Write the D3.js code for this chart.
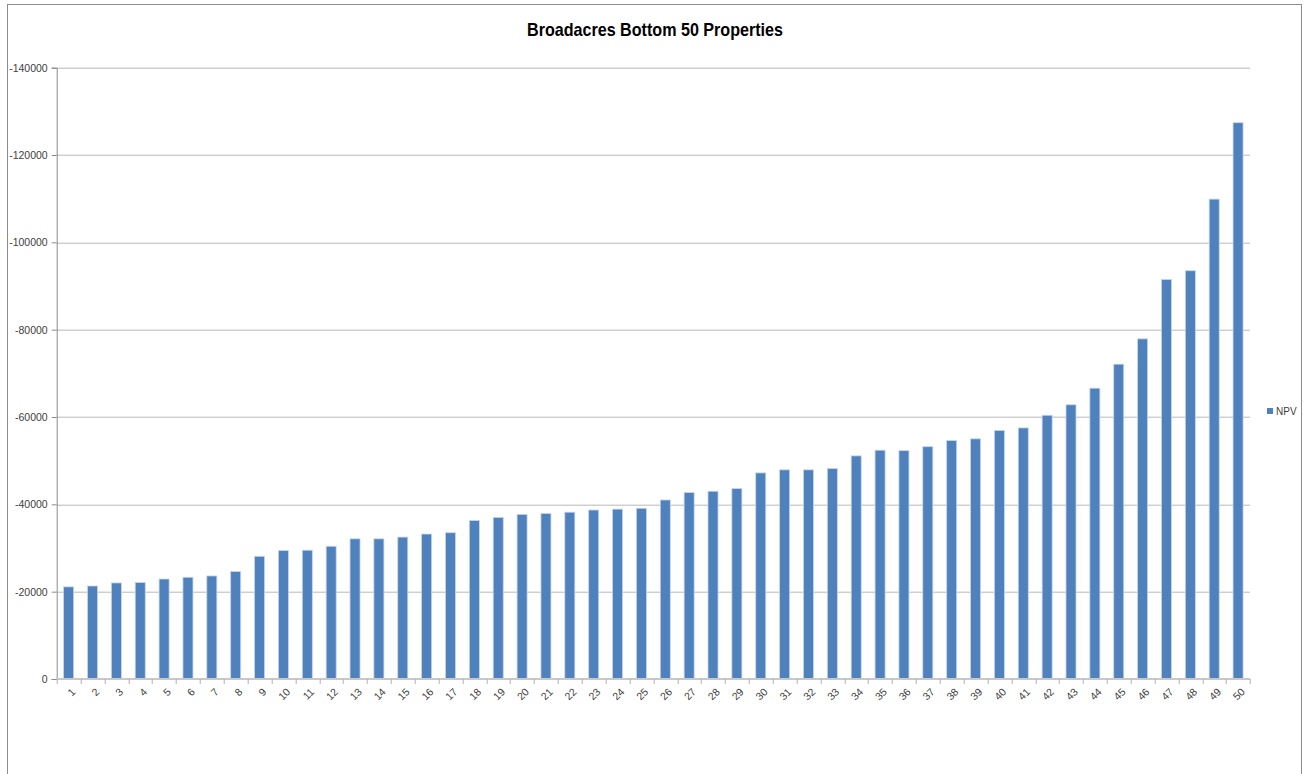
<!DOCTYPE html>
<html>
<head>
<meta charset="utf-8">
<script src="https://cdn.jsdelivr.net/npm/d3@7"></script>
<style>
  body { margin: 0; background: #fff; }
  svg { display: block; }
</style>
</head>
<body>
<svg id="chart" width="1305" height="774"></svg>
<script>
// property rank along the x axis
const properties = d3.range(1, 51).map(String)

// NPV of each property (negative)
const npv = [
  -21100, -21300, -22000, -22100, -22900, -23300, -23600, -24600, -28100, -29400,
  -29500, -30400, -32100, -32100, -32500, -33200, -33500, -36300, -37000, -37700,
  -37900, -38200, -38700, -38900, -39100, -41000, -42700, -43000, -43600, -47200,
  -47900, -47900, -48200, -51100, -52400, -52300, -53200, -54600, -55000, -56900,
  -57500, -60400, -62800, -66600, -72100, -77900, -91500, -93500, -109900, -127400
]

const yTicks = [0, -20000, -40000, -60000, -80000, -100000, -120000, -140000]
const seriesName = 'NPV'
const title = 'Broadacres Bottom 50 Properties'

const data = properties.map((p, i) => ({ name: p, value: npv[i] }))

const margin = { top: 67.7, left: 56.7 }
const width = 1250 - margin.left
const height = 679 - margin.top

const svg = d3.select('#chart')

// outer chart border
svg.append('rect')
  .attr('x', 7.5).attr('y', 4.5)
  .attr('width', 1294).attr('height', 800)
  .attr('fill', 'none').attr('stroke', '#8c8c8c')

// title is condensed in the original (Calibri), squeeze it to the same width
svg.append('text')
  .attr('x', 527).attr('y', 36)
  .attr('textLength', 256)
  .attr('lengthAdjust', 'spacingAndGlyphs')
  .attr('font-family', 'Liberation Sans, Arial, sans-serif')
  .attr('font-weight', 'bold')
  .attr('font-size', 19)
  .attr('fill', '#000')
  .text(title)

const g = svg.append('g').attr('transform', 'translate(' + margin.left + ',' + margin.top + ')')

// category bands, outer padding half of inner so every slot is the same width
const x = d3.scaleBand().domain(properties).range([0, width]).paddingInner(0.58).paddingOuter(0.29)
const y = d3.scaleLinear().domain([0, -140000]).range([height, 0])

// gridlines
g.append('g')
  .selectAll('line')
  .data(yTicks.filter(d => d !== 0))
  .join('line')
  .attr('x1', 0).attr('x2', width)
  .attr('y1', d => Math.round(y(d)) + 0.5).attr('y2', d => Math.round(y(d)) + 0.5)
  .attr('stroke', '#b8b8b8')

// y axis
const yAxis = g.append('g')
  .call(d3.axisLeft(y).tickValues(yTicks).tickSize(5).tickPadding(4).tickFormat(d => String(d)))
yAxis.select('.domain').attr('stroke', '#8c8c8c')
yAxis.selectAll('.tick line').attr('stroke', '#8c8c8c')
yAxis.selectAll('text')
  .attr('font-family', 'Liberation Sans, Arial, sans-serif')
  .attr('font-size', 10.5)
  .attr('fill', '#404040')

// bars
g.append('g')
  .selectAll('rect')
  .data(data)
  .join('rect')
  .attr('x', d => x(d.name))
  .attr('y', d => y(d.value))
  .attr('width', x.bandwidth())
  .attr('height', d => y(0) - y(d.value))
  .attr('fill', '#4f81bd')
  .attr('stroke', '#c6d5ea')
  .attr('stroke-width', 0.8)

// x axis, ticks sit between categories
const step = x.step()
const xAxis = g.append('g').attr('transform', 'translate(0,' + height + ')')
xAxis.append('line')
  .attr('x1', 0).attr('x2', width)
  .attr('stroke', '#c8c8c8').attr('stroke-width', 2)
xAxis.selectAll('line.tk')
  .data(d3.range(0, properties.length + 1))
  .join('line')
  .attr('class', 'tk')
  .attr('x1', i => Math.round(i * step) + 0.5).attr('x2', i => Math.round(i * step) + 0.5)
  .attr('y1', 0).attr('y2', 5)
  .attr('stroke', '#b0b0b0')

// rotated labels, top-right corner of each label sits under its bar
const lx = d => x(d) + x.bandwidth() / 2 + 2
const ly = 8
xAxis.selectAll('text.lbl')
  .data(properties)
  .join('text')
  .attr('class', 'lbl')
  .attr('x', lx)
  .attr('y', ly)
  .attr('transform', d => 'rotate(-45 ' + lx(d) + ' ' + ly + ')')
  .attr('text-anchor', 'end')
  .attr('dy', '0.75em')
  .attr('font-family', 'Liberation Sans, Arial, sans-serif')
  .attr('font-size', 10.5)
  .attr('fill', '#404040')
  .text(d => d)

// legend
const legend = svg.append('g').attr('transform', 'translate(1267,408)')
legend.append('rect').attr('width', 6).attr('height', 6).attr('fill', '#4f81bd')
legend.append('text')
  .attr('x', 9).attr('y', 3)
  .attr('dy', '0.35em')
  .attr('font-family', 'Liberation Sans, Arial, sans-serif')
  .attr('font-size', 10)
  .attr('fill', '#404040')
  .text(seriesName)
</script>
</body>
</html>
